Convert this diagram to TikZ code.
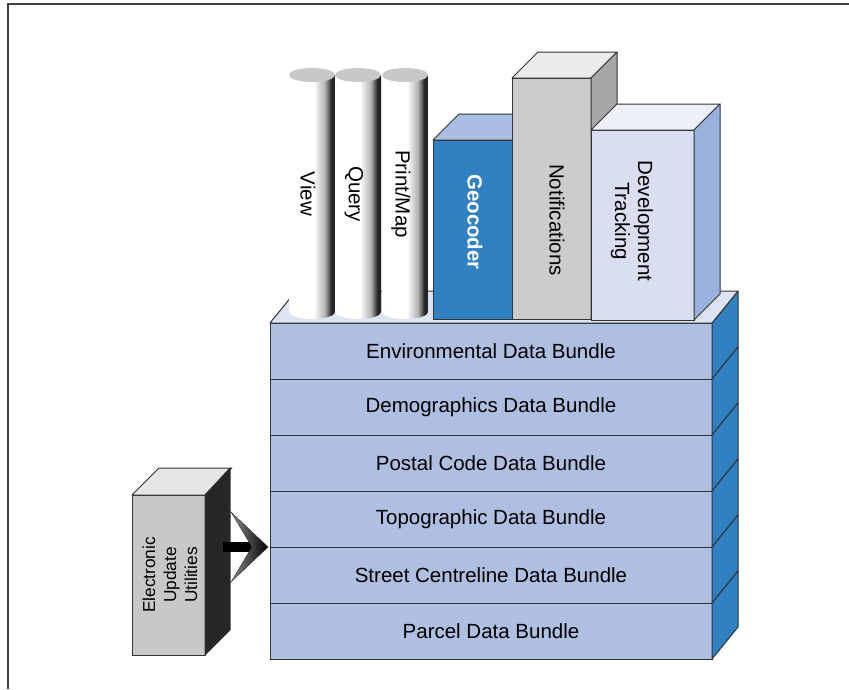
\documentclass[tikz,border=0pt]{standalone}
\usepackage{fontspec}
\setmainfont{Liberation Sans}
\usepackage{tikz}
\usetikzlibrary{positioning, calc}
\def\slabdx{26}
\def\slabdy{32}
\def\boxd{26}
\definecolor{slabfront}{HTML}{AEBFE1}
\definecolor{slabtop}{HTML}{DDE3F2}
\definecolor{slabside}{HTML}{3080C2}
\definecolor{geofront}{HTML}{3080C2}
\definecolor{geotop}{HTML}{AABDE2}
\definecolor{notifront}{HTML}{CCCCCC}
\definecolor{notitop}{HTML}{EBEBEB}
\definecolor{notiside}{HTML}{A6A6A6}
\definecolor{devfront}{HTML}{D9DEF0}
\definecolor{devtop}{HTML}{EEF0F9}
\definecolor{devside}{HTML}{99B1DC}
\definecolor{eufront}{HTML}{C8C8C8}
\definecolor{eutop}{HTML}{E6E6E6}
\definecolor{euside}{HTML}{262626}
\definecolor{captop}{HTML}{C8C8C8}
\pgfdeclarehorizontalshading{cylshade}{100bp}{color(0bp)=(white); color(52bp)=(white); color(64bp)=(black!30); color(71bp)=(black!85); color(100bp)=(black)}
\tikzset{
	every node/.style={
		font=\fontsize{20.5}{23}\selectfont
	},
	slab/.style={
		shape=rectangle,
		draw=black!80,
		fill=slabfront,
		line width=1pt,
		minimum width=442pt,
		minimum height=56pt,
		inner sep=0pt,
		outer sep=0pt
	},
	face/.style={
		draw=black!80,
		line width=1pt,
		line join=round
	},
	book/.style={
		shape=rectangle,
		draw=black!80,
		line width=1pt,
		inner sep=0pt,
		outer sep=0pt,
		anchor=north west
	},
	spine/.style={
		rotate=-90,
		align=center
	},
}

\begin{document}
\begin{tikzpicture}
	[x=1pt, y=-1pt]
	\useasboundingbox (0,0) rectangle (849,689);
	\draw[black!75, line width=2pt] (8,689) -- (8,4) -- (849,4);
	
	\node[slab, anchor=north west] (env) at (270,323) {Environmental Data Bundle};
	\node[slab, below=0pt of env] (demo) {Demographics Data Bundle};
	\node[slab, below=0pt of demo] (postal) {Postal Code Data Bundle};
	\node[slab, below=0pt of postal] (topo) {Topographic Data Bundle};
	\node[slab, below=0pt of topo] (street) {Street Centreline Data Bundle};
	\node[slab, below=0pt of street] (parcel) {Parcel Data Bundle};
	
	\foreach \n in {env,demo,postal,topo,street,parcel}
	\draw[face, fill=slabside] (\n.north east) -- ++(\slabdx,-\slabdy)
		-- ($(\n.south east)+(\slabdx,-\slabdy)$) -- (\n.south east) -- cycle;
	\draw[face, fill=slabtop] (env.north west) -- ++(\slabdx,-\slabdy)
		-- ($(env.north east)+(\slabdx,-\slabdy)$) -- (env.north east) -- cycle;
	
	\foreach \name/\x/\txt in {view/289/View, query/335/Query, print/382/{Print/Map}}
	{
		\shade[shading=cylshade] (\x,75) -- (\x,312)
			arc[start angle=180, end angle=0, x radius=23, y radius=7] -- (\x+46,75) -- cycle;
		\fill[captop] (\x+23,75) ellipse [x radius=23, y radius=7];
		\node[spine] (\name) at (\x+19,194) {\txt};
	}
	
	\node[book, fill=geofront, minimum width=79pt, minimum height=179pt] (geo) at (433,140) {};
	\draw[face, fill=geotop] (geo.north west) -- ++(\boxd,-\boxd)
		-- ($(geo.north east)+(\boxd,-\boxd)$) -- (geo.north east) -- cycle;
	\node[spine, text=white, font=\fontsize{20.5}{23}\selectfont\bfseries] (geolabel) at (475,222) {Geocoder};
	
	\node[book, fill=notifront, minimum width=79pt, minimum height=241pt] (noti) at (512,78) {};
	\draw[face, fill=notitop] (noti.north west) -- ++(\boxd,-\boxd)
		-- ($(noti.north east)+(\boxd,-\boxd)$) -- (noti.north east) -- cycle;
	\draw[face, fill=notiside] (noti.north east) -- ++(\boxd,-\boxd)
		-- ($(noti.south east)+(\boxd,-\boxd)$) -- (noti.south east) -- cycle;
	\node[spine] (notilabel) at (557,220) {Notifications};
	
	\node[book, fill=devfront, minimum width=103pt, minimum height=190pt] (dev) at (591,130) {};
	\draw[face, fill=devtop] (dev.north west) -- ++(\boxd,-\boxd)
		-- ($(dev.north east)+(\boxd,-\boxd)$) -- (dev.north east) -- cycle;
	\draw[face, fill=devside] (dev.north east) -- ++(\boxd,-\boxd)
		-- ($(dev.south east)+(\boxd,-\boxd)$) -- (dev.south east) -- cycle;
	\node[spine] (devlabel) at (632,221) {Development\\Tracking};
	
	\node[book, fill=eufront, minimum width=73pt, minimum height=160pt] (eu) at (132,495) {};
	\draw[face, fill=eutop] (eu.north west) -- ++(27,-27)
		-- ($(eu.north east)+(27,-27)$) -- (eu.north east) -- cycle;
	\draw[face, fill=euside] (eu.north east) -- ++(25,-27)
		-- ($(eu.south east)+(25,-25)$) -- (eu.south east) -- cycle;
	\node[rotate=90, align=center, font=\fontsize{17.3}{21}\selectfont] (eulabel) at (170,575) {Electronic\\Update\\Utilities};
	
	\coordinate (tip) at ($(topo.south west)+(-2,0)$);
	\draw[black, line width=10pt] ($(eu.east |- tip)+(18,0)$) -- ($(tip)+(-15,0)$);
	\shade[left color=black!45, right color=black, draw=black!80, line width=0.4pt] (tip) -- ++(-37,-35) -- ++(21,35) -- ++(-21,35) -- cycle;
\end{tikzpicture}
\end{document}
